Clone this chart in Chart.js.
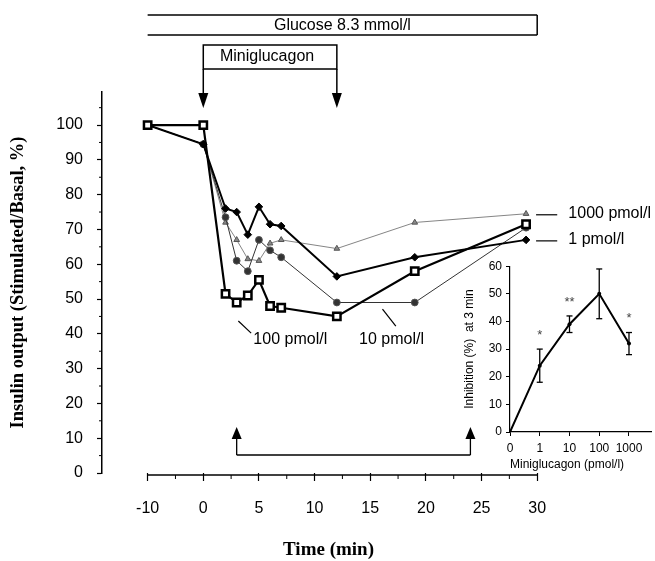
<!DOCTYPE html>
<html><head><meta charset="utf-8">
<script src="https://cdn.jsdelivr.net/npm/chart.js@4.4.0/dist/chart.umd.min.js"></script>
<style>
html,body{margin:0;padding:0;background:#fff;}
#wrap{position:relative;width:655px;height:561px;background:#fff;}
#main{position:absolute;left:0;top:0;}
#inset{position:absolute;left:455px;top:255px;}
</style></head><body>
<div id="wrap">
<canvas id="main" width="655" height="561"></canvas>
<canvas id="inset" width="200" height="220"></canvas>
</div>
<script>
// ---- data ----
const times = [-10, 0, 2, 3, 4, 5, 6, 7, 12, 19, 29];           // min
const seriesNames = ['100 pmol/l', '1 pmol/l', '10 pmol/l', '1000 pmol/l'];
const pmol100  = [100, 100, 51.5, 49, 51, 55.5, 48, 47.5, 45, 58, 71.5];
const pmol1    = [100, 94.5, 76, 75, 68.5, 76.5, 71.5, 71, 56.5, 62, 67];
const pmol10   = [100, 94.5, 73.5, 61, 58, 67, 64, 62, 49, 49, 70.5];
const pmol1000 = [100, 94.5, 72, 67, 61.5, 61, 66, 67, 64.5, 72, 74.5];
const xTickTimes = [-10, 0, 5, 10, 15, 20, 25, 30];
const xMinorTimes = [-5, 2.5, 7.5, 12.5, 17.5, 22.5, 27.5];
const yTickValues = [0, 10, 20, 30, 40, 50, 60, 70, 80, 90, 100];
const yMinorValues = [5, 15, 25, 35, 45, 55, 65, 75, 85, 95, 105];

// inset: inhibition at 3 min
const insetDoses = ['0', '1', '10', '100', '1000'];
const insetInhibition = [0, 24, 39, 50, 32];
const insetSEM = [0, 6, 3, 9, 4];
const insetStars = ['', '*', '**', '***', '*'];
const insetYTicks = [0, 10, 20, 30, 40, 50, 60];

// broken time axis: -10..0 compressed to half scale
const xPos = t => t < 0 ? t / 2 : t;
const pts = vals => times.map((t, i) => ({x: xPos(t), y: vals[i]}));

function seg(ctx, x1, y1, x2, y2) { ctx.beginPath(); ctx.moveTo(x1, y1); ctx.lineTo(x2, y2); ctx.stroke(); }
function tri(ctx, x, tipY, dir, h, w) {
  ctx.beginPath(); ctx.moveTo(x, tipY); ctx.lineTo(x - w / 2, tipY - dir * h); ctx.lineTo(x + w / 2, tipY - dir * h); ctx.closePath(); ctx.fill();
}
const SANS = '"Liberation Sans", Arial, sans-serif';
const SERIF = '"Liberation Serif", "Times New Roman", serif';

const annot = {
  id: 'annot',
  afterDraw(chart) {
    const {ctx, chartArea: ca, scales: {x, y}} = chart;
    const X = t => x.getPixelForValue(xPos(t));
    const Y = v => y.getPixelForValue(v);
    ctx.save();
    ctx.strokeStyle = '#000'; ctx.fillStyle = '#000';
    // x axis line + minor ticks
    const ay = ca.bottom + 2;
    ctx.lineWidth = 1.5;
    seg(ctx, X(-10), ay, X(30), ay);
    ctx.lineWidth = 1;
    xMinorTimes.forEach(t => seg(ctx, X(t), ay, X(t), ay + 4));
    yMinorValues.forEach(v => seg(ctx, ca.left, Y(v), ca.left - 3, Y(v)));
    // glucose box
    const top = ca.top;
    ctx.lineWidth = 1.5;
    const gL = X(-10), gR = X(30), gT = top - 77, gB = top - 57;
    seg(ctx, gL, gT, gR, gT); seg(ctx, gL, gB, gR, gB); seg(ctx, gR, gT, gR, gB);
    ctx.font = '16px ' + SANS; ctx.textAlign = 'center'; ctx.textBaseline = 'middle';
    ctx.fillText('Glucose 8.3 mmol/l', (gL + gR) / 2, (gT + gB) / 2 + 1);
    // miniglucagon box + arrows
    const mL = X(0), mR = X(12), mT = top - 47, mB = top - 23;
    ctx.strokeRect(mL, mT, mR - mL, mB - mT);
    ctx.fillText('Miniglucagon', (mL + mR) / 2 - 3, (mT + mB) / 2);
    const tip = top + 16;
    seg(ctx, mL, mB, mL, tip - 10); seg(ctx, mR, mB, mR, tip - 10);
    tri(ctx, mL, tip, 1, 15, 10); tri(ctx, mR, tip, 1, 15, 10);
    // bottom bracket
    const b = ca.bottom;
    const bl = X(3), br = X(24), tipB = b - 46, lineY = b - 18;
    tri(ctx, bl, tipB, -1, 12, 10); tri(ctx, br, tipB, -1, 12, 10);
    ctx.lineWidth = 1.3;
    seg(ctx, bl, tipB + 10, bl, lineY); seg(ctx, br, tipB + 10, br, lineY); seg(ctx, bl, lineY, br, lineY);
    // series labels
    ctx.textAlign = 'left';
    ctx.lineWidth = 1.2;
    [[pmol1000, seriesNames[3]], [pmol1, seriesNames[1]]].forEach(([arr, lab]) => {
      const yy = Y(arr[arr.length - 1]);
      seg(ctx, X(29.9), yy + 1, X(31.8), yy + 1);
      ctx.fillText(lab, X(32.8), yy);
    });
    seg(ctx, X(3.15), Y(43.7), X(4.3), Y(40.2));
    ctx.fillText(seriesNames[0], X(4.5), Y(38.2));
    seg(ctx, X(16.1), Y(47.1), X(17.3), Y(42.2));
    ctx.fillText(seriesNames[2], X(14), Y(38.2));
    ctx.restore();
  }
};

new Chart(document.getElementById('main'), {
  type: 'line',
  data: {
    datasets: [
      {label: seriesNames[0], data: pts(pmol100), borderColor: '#000', borderWidth: 2.2,
       pointStyle: 'rect', pointRadius: 5.2, pointBorderWidth: 2.5, pointBorderColor: '#000', pointBackgroundColor: '#fff'},
      {label: seriesNames[1], data: pts(pmol1), borderColor: '#000', borderWidth: 2,
       pointStyle: 'rectRot', pointRadius: 3.8, pointBorderWidth: 1, pointBorderColor: '#000', pointBackgroundColor: '#000'},
      {label: seriesNames[2], data: pts(pmol10), borderColor: '#333', borderWidth: 1,
       pointStyle: 'circle', pointRadius: 3.4, pointBorderWidth: 1, pointBorderColor: '#555', pointBackgroundColor: '#333'},
      {label: seriesNames[3], data: pts(pmol1000), borderColor: '#666', borderWidth: 0.8,
       pointStyle: 'triangle', pointRadius: 3.3, pointBorderWidth: 1, pointBorderColor: '#555', pointBackgroundColor: '#888'}
    ]
  },
  options: {
    responsive: false, animation: false, devicePixelRatio: 1, events: [],
    layout: {padding: {top: 92, right: 100, left: 0, bottom: 0}},
    plugins: {legend: {display: false}, tooltip: {enabled: false}},
    elements: {line: {tension: 0}},
    scales: {
      x: {
        type: 'linear', min: -9.1, max: 31.6,
        afterBuildTicks: s => { s.ticks = xTickTimes.map(t => ({value: xPos(t)})); },
        afterFit: s => { s.height = 88; },
        ticks: {callback: (v, i) => String(xTickTimes[i]), font: {family: SANS, size: 16}, color: '#000', padding: 18, maxRotation: 0, autoSkip: false},
        grid: {drawOnChartArea: false, tickLength: 8, tickColor: '#000', tickWidth: 1.2},
        border: {display: false},
        title: {display: true, text: 'Time (min)', font: {family: SERIF, size: 19, weight: 'bold'}, color: '#000', padding: {top: 0, bottom: 0}}
      },
      y: {
        type: 'linear', min: 0, max: 109.5,
        afterBuildTicks: s => { s.ticks = yTickValues.map(v => ({value: v})); },
        afterFit: s => { s.width = 102; },
        ticks: {font: {family: SANS, size: 16}, color: '#000', padding: 14},
        grid: {drawOnChartArea: false, tickLength: 5, tickColor: '#000', tickWidth: 1.2},
        border: {display: true, color: '#000', width: 1.5},
        title: {display: true, text: 'Insulin output (Stimulated/Basal, %)', font: {family: SERIF, size: 18.5, weight: 'bold'}, color: '#000', padding: {top: 7, bottom: 0}}
      }
    }
  },
  plugins: [annot]
});

const insetAnnot = {
  id: 'insetAnnot',
  afterDatasetsDraw(chart) {
    const {ctx, scales: {x, y}} = chart;
    ctx.save();
    ctx.strokeStyle = '#000'; ctx.lineWidth = 1.3;
    ctx.font = '13px ' + SANS; ctx.textAlign = 'center'; ctx.textBaseline = 'middle';
    insetInhibition.forEach((v, i) => {
      const e = insetSEM[i];
      if (!e) return;
      const px = x.getPixelForValue(i);
      const t = y.getPixelForValue(v + e), bt = y.getPixelForValue(v - e);
      seg(ctx, px, t, px, bt); seg(ctx, px - 3, t, px + 3, t); seg(ctx, px - 3, bt, px + 3, bt);
      ctx.fillStyle = '#444';
      ctx.fillText(insetStars[i], px, t - 14);
    });
    ctx.restore();
  }
};

new Chart(document.getElementById('inset'), {
  type: 'line',
  data: {
    datasets: [{data: insetInhibition.map((v, i) => ({x: i, y: v})), borderColor: '#000', borderWidth: 2,
      pointRadius: 2, pointBackgroundColor: '#000', pointBorderWidth: 0}]
  },
  options: {
    responsive: false, animation: false, devicePixelRatio: 1, events: [],
    layout: {padding: {top: 11, right: 0, left: 0, bottom: 0}},
    plugins: {legend: {display: false}, tooltip: {enabled: false}},
    scales: {
      x: {
        type: 'linear', min: 0, max: 4.74,
        afterBuildTicks: s => { s.ticks = insetDoses.map((d, i) => ({value: i})); },
        afterFit: s => { s.height = 43; },
        ticks: {callback: (v, i) => insetDoses[i], font: {family: SANS, size: 12}, color: '#000', padding: 5, maxRotation: 0, autoSkip: false},
        grid: {drawOnChartArea: false, tickLength: 4, tickColor: '#000'},
        border: {color: '#000', width: 1.2},
        title: {display: true, align: 'start', text: 'Miniglucagon (pmol/l)', font: {family: SANS, size: 12}, color: '#000', padding: {top: 0, bottom: 3}}
      },
      y: {
        type: 'linear', min: 0, max: 60,
        afterBuildTicks: s => { s.ticks = insetYTicks.map(v => ({value: v})); },
        afterFit: s => { s.width = 55; },
        ticks: {font: {family: SANS, size: 12}, color: '#000', padding: 4},
        grid: {drawOnChartArea: false, tickLength: 4, tickColor: '#000'},
        border: {color: '#000', width: 1.2},
        title: {display: true, text: 'Inhibition (%)  at 3 min', font: {family: SANS, size: 12}, color: '#000', padding: {top: 7, bottom: 0}}
      }
    }
  },
  plugins: [insetAnnot]
});
</script>
</body></html>
